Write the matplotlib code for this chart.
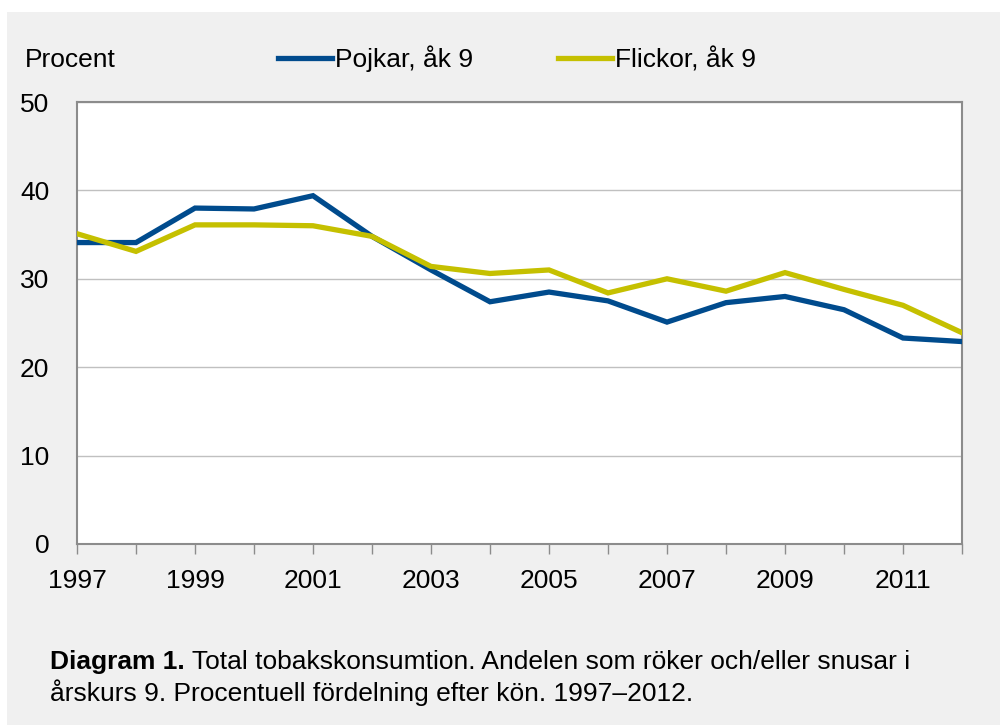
import matplotlib.pyplot as plt
from matplotlib.patches import Rectangle
from matplotlib.lines import Line2D

plt.rcParams['font.family'] = ['Liberation Sans', 'DejaVu Sans']

years = list(range(1997, 2013))
pojkar = [34.1, 34.1, 38.0, 37.9, 39.4, 34.8, 31.0, 27.4, 28.5, 27.5, 25.1, 27.3, 28.0, 26.5, 23.3, 22.9]
flickor = [35.1, 33.1, 36.1, 36.1, 36.0, 34.8, 31.4, 30.6, 31.0, 28.4, 30.0, 28.6, 30.7, 28.8, 27.0, 23.9]
label_years = [1997, 1999, 2001, 2003, 2005, 2007, 2009, 2011]

blue = '#004B8D'
yellow = '#C5C000'
bg = '#F0F0F0'
fs = 19

fig = plt.figure(figsize=(10, 7.25), dpi=100)
fig.patch.set_facecolor('white')
fig.patches.append(Rectangle((0.007, 0), 0.993, 1 - 12 / 725, transform=fig.transFigure,
                             facecolor=bg, edgecolor='none', zorder=-10))

ax = fig.add_axes([0.077, 0.2497, 0.885, 0.6096])
ax.set_facecolor('white')
ax.plot(years, pojkar, color=blue, lw=3.8, solid_joinstyle='miter', zorder=3)
ax.plot(years, flickor, color=yellow, lw=3.8, solid_joinstyle='miter', zorder=3)

ax.set_xlim(1997, 2012)
ax.set_ylim(0, 50)
ax.set_yticks([0, 10, 20, 30, 40, 50])
ax.set_xticks(years)
ax.set_xticklabels([str(y) if y in label_years else '' for y in years])
ax.grid(axis='y', color='#C0C0C0', lw=1)
ax.set_axisbelow(True)
for s in ax.spines.values():
    s.set_color('#8C8C8C')
    s.set_linewidth(1.5)
ax.tick_params(axis='x', length=7, width=1, color='#8C8C8C', labelsize=fs, pad=11)
ax.tick_params(axis='y', length=0, labelsize=fs, pad=20)

fig.text(0.025, 0.917, 'Procent', fontsize=fs, va='center', ha='left')

# legend
handles = [Line2D([], [], color=blue, lw=3.8), Line2D([], [], color=yellow, lw=3.8)]
fig.legend(handles, ['Pojkar, åk 9', 'Flickor, åk 9'], loc='center left',
           bbox_to_anchor=(0.278, 0.919), ncol=2, frameon=False, fontsize=fs,
           handlelength=2.05, handletextpad=0.12, columnspacing=3.2, borderpad=0,
           borderaxespad=0)

# caption with bold lead-in
cfs = 19
bold = fig.text(0.05, 0.087, 'Diagram 1.', fontsize=cfs, fontweight='bold', va='center', ha='left')
fig.canvas.draw()
bb = bold.get_window_extent().transformed(fig.transFigure.inverted())
fig.text(bb.x1, 0.087, ' Total tobakskonsumtion. Andelen som röker och/eller snusar i',
         fontsize=cfs, va='center', ha='left')
fig.text(0.05, 0.045, 'årskurs 9. Procentuell fördelning efter kön. 1997–2012.',
         fontsize=cfs, va='center', ha='left')

fig.savefig('out.png', dpi=100, facecolor=fig.get_facecolor())
